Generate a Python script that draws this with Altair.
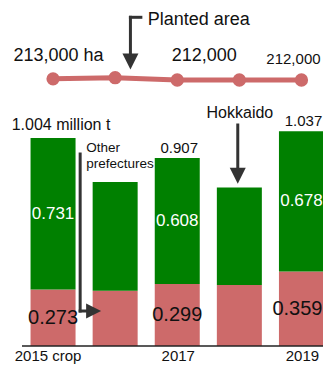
import altair as alt
import pandas as pd

# ---------------- data ----------------
years = [2015, 2016, 2017, 2018, 2019]
hokkaido_mt = [0.731, 0.524, 0.608, 0.471, 0.678]
other_mt = [0.273, 0.267, 0.299, 0.294, 0.359]
total_mt = [1.004, 0.791, 0.907, 0.765, 1.037]
planted_ha = [213000, 214000, 212000, 212000, 212000]
labelled_years = [2015, 2017, 2019]
axis_labels = ["2015 crop", "2017", "2019"]
segment_names = ["Hokkaido", "Other prefectures"]

# annotation anchors in data space (year, million t)
planted_arrow_x = [2016.246, 2016.246]
planted_arrow_x2 = [2016.414, 2016.246]
planted_arrow_y = [1.5864, 1.5864]
planted_arrow_y2 = [1.5864, 1.3996]
other_arrow_x = [2015.4365, 2015.4365]
other_arrow_x2 = [2015.4365, 2015.5667]
other_arrow_y = [0.9266, 0.1689]
other_arrow_y2 = [0.1689, 0.1689]
hok_arrow_x = [2017.9745]
hok_arrow_x2 = [2017.9745]
hok_arrow_y = [1.0666]
hok_arrow_y2 = [0.8494]
down_heads_x = [2016.246, 2017.9745]
down_heads_y = [1.3731, 0.8214]
right_heads_x = [2015.653]
right_heads_y = [0.1689]

FONT = "Liberation Sans"
RED = "#cd6a6a"
GREEN = "#008000"
INK = "#111111"
ARROW = "#333333"

W, H = 301, 338
x_scale = alt.Scale(domain=[2014.5, 2019.347], nice=False, zero=False, padding=0)
y_scale = alt.Scale(domain=[0, 1.6313], nice=False, zero=False, padding=0)
area_scale = alt.Scale(domain=[212000, 214000], range=[72, 69.7], nice=False, zero=False, padding=0)


def X(field):
    return alt.X(f"{field}:Q", scale=x_scale, axis=None)


def Y(field):
    return alt.Y(f"{field}:Q", scale=y_scale, axis=None)


# ---------------- tables ----------------
bar_rows = []
for yr, h, o, t in zip(years, hokkaido_mt, other_mt, total_mt):
    bar_rows.append({"year": yr, "segment": "Other prefectures", "y0": 0.0, "y1": o})
    bar_rows.append({"year": yr, "segment": "Hokkaido", "y0": o, "y1": t})
bars_df = pd.DataFrame(bar_rows)

prod = pd.DataFrame({"year": years, "hokkaido": hokkaido_mt, "other": other_mt,
                     "total": total_mt, "area": planted_ha})
prod["hok_mid"] = prod["other"] + prod["hokkaido"] / 2
prod["oth_mid"] = prod["other"] / 2
prod["hok_txt"] = prod["hokkaido"].map(lambda v: f"{v:.3f}")
prod["oth_txt"] = prod["other"].map(lambda v: f"{v:.3f}")
prod["tot_txt"] = prod["total"].map(lambda v: f"{v:.3f}")
prod["area_txt"] = prod["area"].map(lambda v: f"{v:,}")
prod["zero"] = 0.0
lab = prod[prod["year"].isin(labelled_years)].copy()
lab["axis_txt"] = axis_labels
first = lab[lab["year"] == labelled_years[0]].copy()
first["tot_txt"] = first["tot_txt"] + " million t"
first["area_txt"] = first["area_txt"] + " ha"
mid = lab[lab["year"] == labelled_years[1]]
last = lab[lab["year"] == labelled_years[2]]
rest = lab[lab["year"] != labelled_years[0]]
not_last = lab[lab["year"] != labelled_years[2]]

segs = pd.DataFrame({
    "x": planted_arrow_x + other_arrow_x + hok_arrow_x,
    "x2": planted_arrow_x2 + other_arrow_x2 + hok_arrow_x2,
    "y": planted_arrow_y + other_arrow_y + hok_arrow_y,
    "y2": planted_arrow_y2 + other_arrow_y2 + hok_arrow_y2,
})
down_df = pd.DataFrame({"x": down_heads_x, "y": down_heads_y})
right_df = pd.DataFrame({"x": right_heads_x, "y": right_heads_y})

notes_planted = pd.DataFrame({"x": [2016.5235], "y": [1.5734], "t": ["Planted area"]})
notes_hok = pd.DataFrame({"x": [2018.009], "y": [1.1269], "t": ["Hokkaido"]})
notes_other = pd.DataFrame({"x": [2015.535, 2015.535], "y": [0.9542, 0.8808],
                            "t": ["Other", "prefectures"]})

# ---------------- layers ----------------
bars = alt.Chart(bars_df).mark_bar(size=45).encode(
    x=X("year"), y=Y("y0"), y2="y1:Q",
    color=alt.Color("segment:N", scale=alt.Scale(domain=segment_names, range=[GREEN, RED]),
                    legend=None),
)
baseline = alt.Chart(pd.DataFrame({"v": [0.0]})).mark_rule(color="#222222", strokeWidth=1.3).encode(
    x=alt.value(0), x2=alt.value(W), y=Y("v")
)
hok_labels = alt.Chart(lab).mark_text(fontSize=17, color="white", baseline="middle").encode(
    x=X("year"), y=Y("hok_mid"), text="hok_txt:N")
oth_labels = alt.Chart(not_last).mark_text(fontSize=20, color=INK, baseline="middle").encode(
    x=X("year"), y=Y("oth_mid"), text="oth_txt:N")
oth_label_last = alt.Chart(last).mark_text(fontSize=20, color=INK, baseline="middle", dx=-4).encode(
    x=X("year"), y=Y("oth_mid"), text="oth_txt:N")
tot_first = alt.Chart(first).mark_text(fontSize=16, color=INK, baseline="middle", dx=8, dy=-13).encode(
    x=X("year"), y=Y("total"), text="tot_txt:N")
tot_rest = alt.Chart(rest).mark_text(fontSize=15, color=INK, baseline="middle", dx=2, dy=-10).encode(
    x=X("year"), y=Y("total"), text="tot_txt:N")
axis_first = alt.Chart(first).mark_text(fontSize=15, color=INK, baseline="alphabetic", dx=-5, dy=15).encode(
    x=X("year"), y=Y("zero"), text="axis_txt:N")
axis_rest = alt.Chart(rest).mark_text(fontSize=15, color=INK, baseline="alphabetic", dx=1, dy=15).encode(
    x=X("year"), y=Y("zero"), text="axis_txt:N")

AY = alt.Y("area:Q", scale=area_scale, axis=None)
area_line = alt.Chart(prod).mark_line(color=RED, strokeWidth=5).encode(x=X("year"), y=AY)
area_pts = alt.Chart(prod).mark_circle(size=177, color=RED, opacity=1).encode(x=X("year"), y=AY)
area_l1 = alt.Chart(first).mark_text(fontSize=18, color=INK, baseline="middle", dx=5.5, dy=-23).encode(
    x=X("year"), y=AY, text="area_txt:N")
area_l2 = alt.Chart(mid).mark_text(fontSize=18, color=INK, baseline="middle", dx=27, dy=-24).encode(
    x=X("year"), y=AY, text="area_txt:N")
area_l3 = alt.Chart(last).mark_text(fontSize=15, color=INK, baseline="middle", dx=-8, dy=-21).encode(
    x=X("year"), y=AY, text="area_txt:N")

rules = alt.Chart(segs).mark_rule(color=ARROW, strokeWidth=3, strokeCap="square").encode(
    x=X("x"), x2="x2:Q", y=Y("y"), y2="y2:Q")
heads_down = alt.Chart(down_df).mark_point(shape="M-1,-1L1,-1L0,1Z", filled=True, size=256,
                                           color=ARROW, opacity=1, strokeWidth=0).encode(
    x=X("x"), y=Y("y"))
heads_right = alt.Chart(right_df).mark_point(shape="M-1,-1L1,0L-1,1Z", filled=True, size=225,
                                             color=ARROW, opacity=1, strokeWidth=0).encode(
    x=X("x"), y=Y("y"))
note1 = alt.Chart(notes_planted).mark_text(fontSize=18, color=INK, align="left", baseline="middle").encode(
    x=X("x"), y=Y("y"), text="t:N")
note2 = alt.Chart(notes_hok).mark_text(fontSize=16, color=INK, align="center", baseline="middle").encode(
    x=X("x"), y=Y("y"), text="t:N")
note3 = alt.Chart(notes_other).mark_text(fontSize=13.5, color=INK, align="left", baseline="middle").encode(
    x=X("x"), y=Y("y"), text="t:N")

chart = alt.layer(
    bars, baseline, hok_labels, oth_labels, oth_label_last, tot_first, tot_rest, axis_first, axis_rest,
    area_line, area_pts, area_l1, area_l2, area_l3,
    rules, heads_down, heads_right, note1, note2, note3,
).resolve_scale(y="independent").properties(
    width=W, height=H,
    autosize=alt.AutoSizeParams(type="none"),
    padding={"left": 14, "top": 0, "right": 0, "bottom": 19},
).configure_view(stroke=None).configure_text(font=FONT)

chart.save("out.html", embed_options={"renderer": "svg", "actions": False})
